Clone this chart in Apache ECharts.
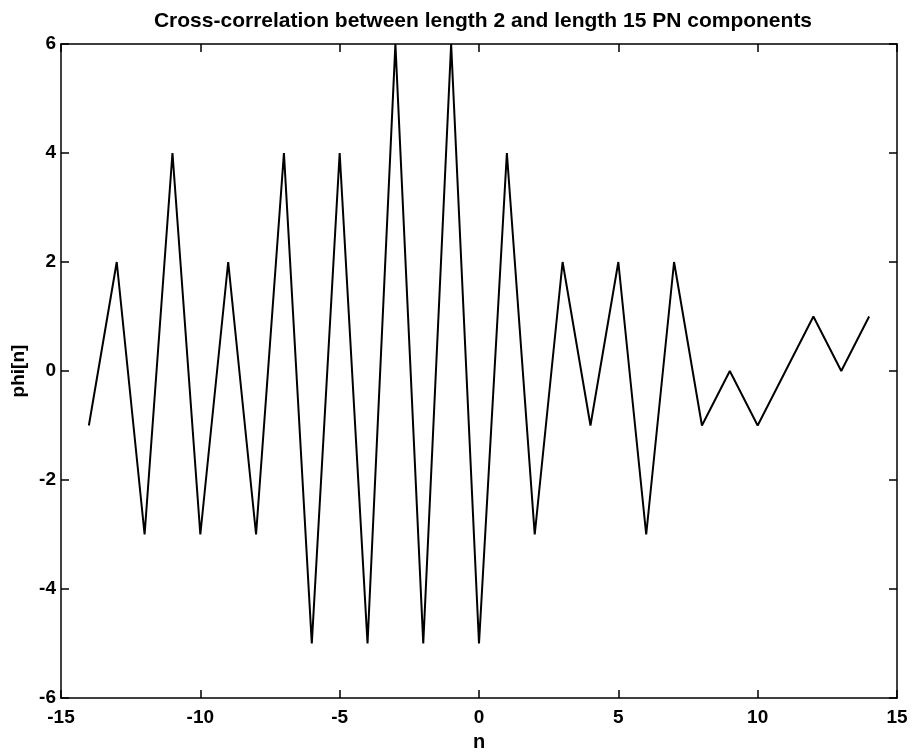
<!DOCTYPE html>
<html>
<head>
<meta charset="utf-8">
<script src="https://cdn.jsdelivr.net/npm/echarts@6/dist/echarts.min.js"></script>
<style>
  html, body { margin: 0; padding: 0; background: #fff; }
  #chart { width: 914px; height: 755px; }
</style>
</head>
<body>
<div id="chart"></div>
<script>
// lag values and cross-correlation
const nValues = [-14, -13, -12, -11, -10, -9, -8, -7, -6, -5, -4, -3, -2, -1, 0,
    1, 2, 3, 4, 5, 6, 7, 8, 9, 10, 11, 12, 13, 14];
const phiValues = [-1, 2, -3, 4, -3, 2, -3, 4, -5, 4, -5, 6, -5, 6, -5,
    4, -3, 2, -1, 2, -3, 2, -1, 0, -1, 0, 1, 0, 1];

const font = 'Liberation Sans, Arial, sans-serif';

const axisCommon = {
    axisLine: { onZero: false, lineStyle: { color: '#000', width: 1.5 } },
    axisTick: { inside: true, length: 8, lineStyle: { color: '#000', width: 1.5 } },
    splitLine: { show: false },
};

const chart = echarts.init(document.getElementById('chart'));
chart.setOption({
    backgroundColor: '#fff',
    animation: false,
    title: {
        text: 'Cross-correlation between length 2 and length 15 PN components',
        left: 478,
        textAlign: 'center',
        top: 6,
        textStyle: { fontFamily: font, fontWeight: 'bold', fontSize: 21, color: '#000' },
    },
    grid: { left: 61, right: 17, top: 44, bottom: 57, outerBoundsMode: 'none', containLabel: false },
    xAxis: [
        Object.assign({
            type: 'value', min: -15, max: 15, interval: 5, position: 'bottom',
            name: 'n', nameLocation: 'middle', nameGap: 34,
            nameTextStyle: { fontFamily: font, fontWeight: 'bold', fontSize: 20, color: '#000' },
            axisLabel: { fontFamily: font, fontWeight: 'bold', fontSize: 19, color: '#000', margin: 10 },
        }, axisCommon),
        Object.assign({
            type: 'value', min: -15, max: 15, interval: 5, position: 'top',
            axisLabel: { show: false },
        }, axisCommon),
    ],
    yAxis: [
        Object.assign({
            type: 'value', min: -6, max: 6, interval: 2, position: 'left',
            name: 'phi[n]', nameLocation: 'middle', nameGap: 25,
            nameTextStyle: { fontFamily: font, fontWeight: 'bold', fontSize: 19, color: '#000' },
            axisLabel: { fontFamily: font, fontWeight: 'bold', fontSize: 19, color: '#000', margin: 5 },
        }, axisCommon),
        Object.assign({
            type: 'value', min: -6, max: 6, interval: 2, position: 'right',
            axisLabel: { show: false },
        }, axisCommon),
    ],
    series: [{
        type: 'line',
        data: nValues.map((n, i) => [n, phiValues[i]]),
        showSymbol: false,
        lineStyle: { color: '#000', width: 2 },
        xAxisIndex: 0,
        yAxisIndex: 0,
    }],
});
</script>
</body>
</html>
